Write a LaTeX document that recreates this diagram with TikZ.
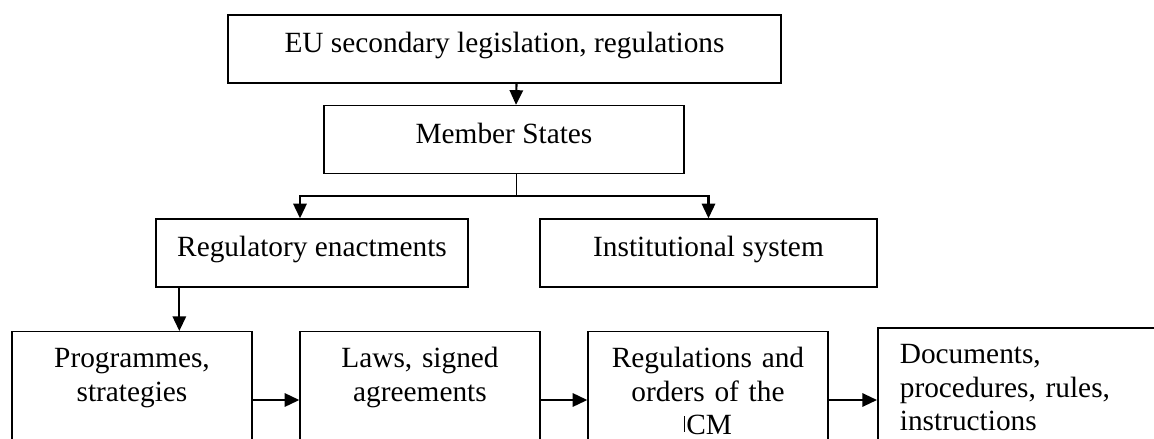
\documentclass[tikz,border=0pt]{standalone}
\usepackage{fontspec}
\setmainfont{Liberation Serif}
\usetikzlibrary{shapes.geometric, arrows.meta}

\tikzstyle{upper} = [rectangle,
minimum height=51pt,
inner sep=0pt,
text height=15.4pt,
text depth=10.1pt,
text centered,
draw=black,
line width=1pt]
\tikzstyle{lower} = [rectangle,
anchor=north,
minimum width=180pt,
text width=172pt,
inner xsep=4pt,
inner ysep=11.6pt,
text height=15.4pt,
text depth=100pt,
align=center,
draw=black,
line width=1pt]
\tikzstyle{arrow} = [line width=1.6pt,-{Triangle[length=11pt,width=10pt]}]

\begin{document}
\begin{tikzpicture}[x=0.75pt, y=-0.75pt, font=\fontsize{22}{25}\selectfont]
\useasboundingbox (0,0) rectangle (1154,439);
\clip (0,0) rectangle (1154,439);

\node (eu1) [upper, minimum width=414.75pt] at (504.5,49) {EU secondary legislation, regulations};
\node (ms1) [upper, minimum width=270pt] at (504,139.5) {Member States};
\node (reg1) [upper, minimum width=234pt] at (312,253) {Regulatory enactments};
\node (inst1) [upper, minimum width=252.75pt] at (708.5,253) {Institutional system};

\node (prog1) [lower] at (132,331) {Programmes,\\ strategies};
\node (law1) [lower] at (420,331) {Laws, signed\\ agreements};
\node (ord1) [lower] at (708,331) {Regulations and\\ orders of the\\ \rule[2pt]{0.7pt}{11.5pt}\kern1pt CM};
\node (doc1) [lower, anchor=north west, minimum width=230pt, text width=200pt,
  inner xsep=16.5pt, align=left, line width=1.3pt] at (877,327) {Documents,\\ procedures, rules,\\ instructions};

\coordinate (split) at (516,196);
\coordinate (drop) at ([xshift=18pt]reg1.south west);
\coordinate (row) at (0,400);

\draw [arrow] ([xshift=9pt]eu1.south) -- ([xshift=9pt]ms1.north);
\draw [line width=0.7pt] ([xshift=9pt]ms1.south) -- (split);
\draw [arrow] (split) -| ([xshift=-9pt]reg1.north);
\draw [arrow] (split) -| (inst1.north);
\draw [arrow] (drop) -- (drop |- prog1.north);
\draw [arrow] (prog1.east |- row) -- (law1.west |- row);
\draw [arrow] (law1.east |- row) -- (ord1.west |- row);
\draw [arrow] (ord1.east |- row) -- (doc1.west |- row);

\end{tikzpicture}
\end{document}
